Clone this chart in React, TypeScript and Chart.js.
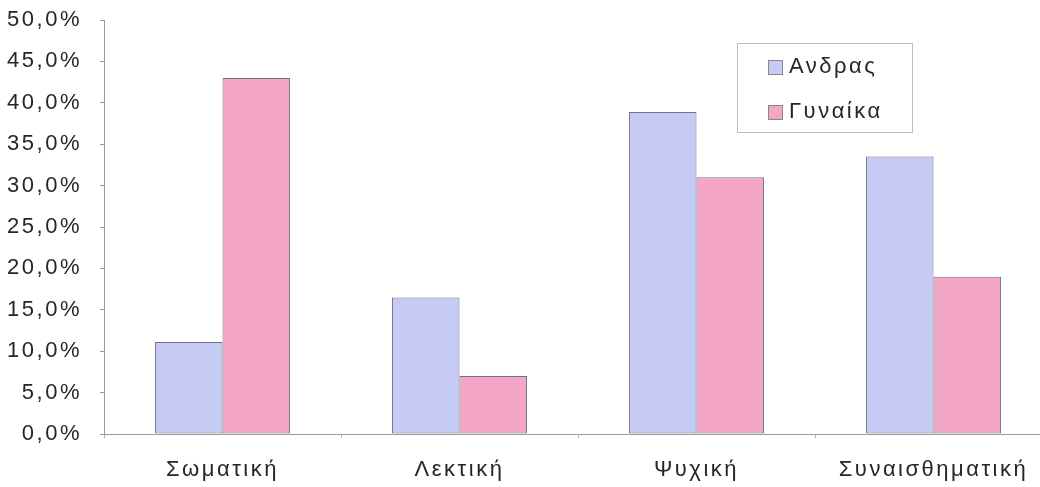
import React, { useEffect, useRef } from "react";
import { Chart, registerables } from "chart.js";

Chart.register(...registerables);

const categories = ["Σωματική", "Λεκτική", "Ψυχική", "Συναισθηματική"];
const seriesNames = ["Ανδρας", "Γυναίκα"];
const menValues = [11.1, 16.5, 38.9, 33.5];
const womenValues = [43.0, 7.0, 31.0, 19.0];
const yTicks = [0, 5, 10, 15, 20, 25, 30, 35, 40, 45, 50];

const BLUE = "#c6cbf6";
const PINK = "#f3a6c6";
const FONT = "'Liberation Sans', Arial, sans-serif";
const TEXT = "#262626";
const SPACING = "2.5px";

const legendPlugin = {
  id: "boxLegend",
  afterDraw(chart: any) {
    const ctx = chart.ctx;
    ctx.save();
    const x = 737, y = 43, w = 175, h = 89;
    ctx.fillStyle = "#ffffff";
    ctx.fillRect(x, y, w, h);
    ctx.strokeStyle = "#bdbdbd";
    ctx.lineWidth = 1;
    ctx.strokeRect(x + 0.5, y + 0.5, w, h);
    ctx.font = `22px ${FONT}`;
    (ctx as any).letterSpacing = SPACING;
    ctx.textBaseline = "middle";
    ctx.textAlign = "left";
    chart.data.datasets.forEach((ds: any, i: number) => {
      const cy = 67 + i * 45;
      ctx.fillStyle = ds.backgroundColor;
      ctx.fillRect(768, cy - 7, 14, 14);
      ctx.strokeStyle = "#888";
      ctx.strokeRect(768.5, cy - 6.5, 14, 14);
      ctx.fillStyle = TEXT;
      ctx.fillText(ds.label, 789, cy);
    });
    ctx.restore();
  },
};

const spacingPlugin = {
  id: "spacing",
  beforeUpdate(chart: any) {
    (chart.ctx as any).letterSpacing = SPACING;
  },
  beforeDraw(chart: any) {
    (chart.ctx as any).letterSpacing = SPACING;
  },
};

export default function App() {
  const ref = useRef<HTMLCanvasElement>(null);
  useEffect(() => {
    if (!ref.current) return;
    const chart = new Chart(ref.current, {
      type: "bar",
      data: {
        labels: categories,
        datasets: [
          {
            label: seriesNames[0],
            data: menValues,
            backgroundColor: BLUE,
            borderColor: "#707086",
            borderWidth: 1,
            borderSkipped: false,
          },
          {
            label: seriesNames[1],
            data: womenValues,
            backgroundColor: PINK,
            borderColor: "#707086",
            borderWidth: 1,
            borderSkipped: false,
          },
        ],
      },
      options: {
        animation: false,
        responsive: false,
        maintainAspectRatio: false,
        layout: { padding: { top: 20, right: 0, bottom: 0, left: 0 } },
        plugins: {
          legend: { display: false },
          tooltip: { enabled: false },
        },
        datasets: {
          bar: { categoryPercentage: 0.57, barPercentage: 1.0 },
        },
        scales: {
          x: {
            offset: true,
            grid: {
              offset: true,
              drawOnChartArea: false,
              drawTicks: true,
              tickLength: 4,
              color: "#b5b5b5",
            },
            border: { color: "#9a9a9a", width: 1 },
            ticks: {
              color: TEXT,
              font: { family: FONT, size: 22 },
              padding: 19,
              maxRotation: 0,
              autoSkip: false,
            },
            afterFit(scale: any) {
              scale.height = 53;
              scale.paddingLeft = 0;
              scale.paddingRight = 0;
            },
          },
          y: {
            min: 0,
            max: 50,
            afterBuildTicks(scale: any) {
              scale.ticks = yTicks.map((v) => ({ value: v }));
            },
            grid: {
              drawOnChartArea: false,
              drawTicks: true,
              tickLength: 4,
              color: "#9a9a9a",
            },
            border: { color: "#9a9a9a", width: 1 },
            ticks: {
              color: TEXT,
              font: { family: FONT, size: 22 },
              padding: 18,
              callback: (v: any) => Number(v).toFixed(1).replace(".", ",") + "%",
            },
            afterFit(scale: any) {
              scale.width = 104;
              scale.paddingTop = 0;
              scale.paddingBottom = 0;
            },
          },
        },
      },
      plugins: [spacingPlugin, legendPlugin],
    });
    return () => chart.destroy();
  }, []);

  return (
    <div
      style={{
        position: "fixed",
        left: 0,
        top: 0,
        width: 1040,
        height: 487,
        overflow: "hidden",
        background: "#fff",
      }}
    >
      <canvas ref={ref} width={1052} height={487} style={{ display: "block" }} />
    </div>
  );
}
